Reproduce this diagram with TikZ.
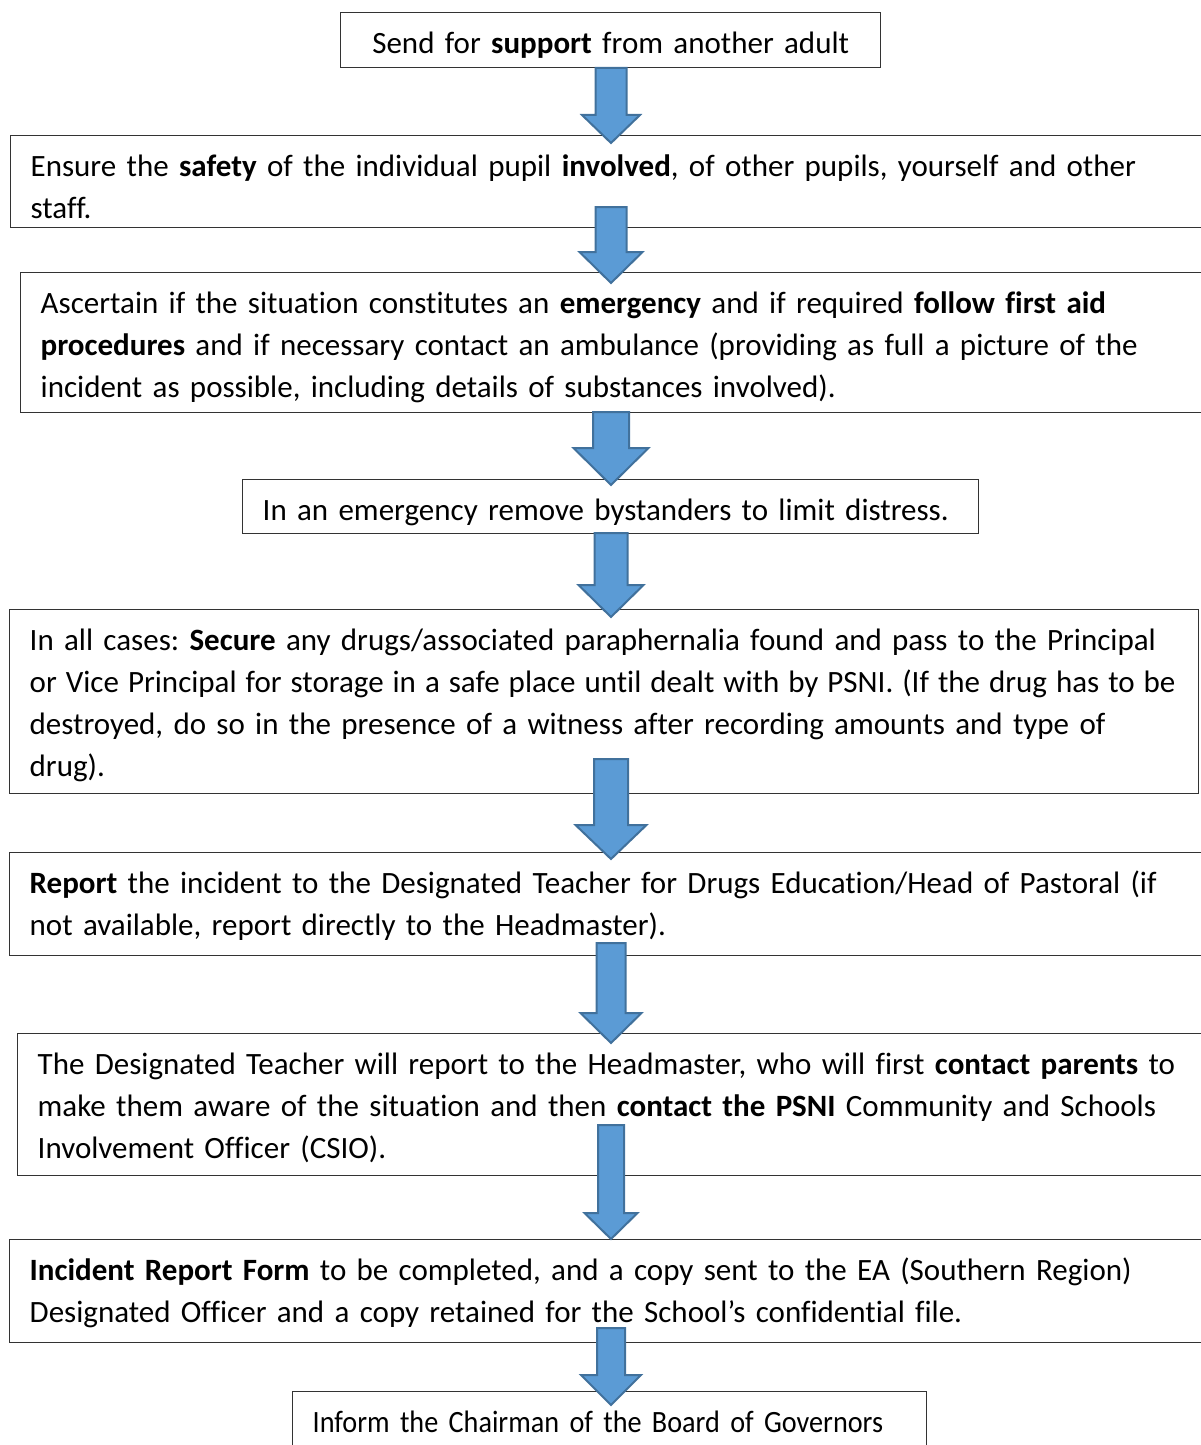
\documentclass[tikz,border=0pt]{standalone}
\usepackage{fontspec}
\setmainfont{Carlito}[Ligatures=CommonOff]
\definecolor{arrowfill}{HTML}{5B9BD5}
\definecolor{arrowline}{HTML}{41719C}
\hyphenpenalty=10000
\frenchspacing

\begin{document}
\begin{tikzpicture}[x=0.5pt, y=-0.5pt,
    stepbox/.style = {draw=black!80, line width=0.7pt, anchor=north west, align=left,
        inner xsep=10pt, inner ysep=0pt, text height=20.5pt,
        font=\fontsize{15.5}{21}\selectfont},
    blockarrow/.style = {fill=arrowfill, draw=arrowline, line width=1pt, line join=miter}]
    \useasboundingbox (0,0) rectangle (1200,1445);
    % the steps, top to bottom
    \node[stepbox, align=center, text width=250pt, text depth=7pt] (support) at (340,12) {Send for \textbf{support} from another adult};
    \node[stepbox, text width=582.5pt, text depth=25.5pt] (safety) at (10,135) {Ensure the \textbf{safety} of the individual pupil \textbf{involved}, of other pupils, yourself and other\\ staff.};
    \node[stepbox, text width=577.5pt, text depth=49.5pt] (emergency) at (20,272) {Ascertain if the situation constitutes an \textbf{emergency} and if required \textbf{follow first aid}\\ \textbf{procedures} and if necessary contact an ambulance (providing as full a picture of the\\ incident as possible, including details of substances involved).};
    \node[stepbox, text width=348pt, text depth=6.5pt] (bystanders) at (242,479) {In an emergency remove bystanders to limit distress.};
    \node[stepbox, text width=574.5pt, text depth=71.5pt] (secure) at (9,609) {In all cases: \textbf{Secure} any drugs/associated paraphernalia found and pass to the Principal\\ \mbox{\spaceskip=0.29em\relax or Vice Principal for storage in a safe place until dealt with by PSNI. (If the drug has to be}\\ destroyed, do so in the presence of a witness after recording amounts and type of\\ drug).};
    \node[stepbox, text width=583pt, text depth=31pt] (report) at (9,852) {\textbf{Report} the incident to the Designated Teacher for Drugs Education/Head of Pastoral (if\\ not available, report directly to the Headmaster).};
    \node[stepbox, text width=579pt, text depth=50.5pt] (parents) at (17,1033) {The Designated Teacher will report to the Headmaster, who will first \textbf{contact parents} to\\ make them aware of the situation and then \textbf{contact the PSNI} Community and Schools\\ Involvement Officer (CSIO).};
    \node[stepbox, text width=583pt, text depth=31pt] (form) at (9,1239) {\textbf{Incident Report Form} to be completed, and a copy sent to the EA (Southern Region)\\ Designated Officer and a copy retained for the School’s confidential file.};
    \node[stepbox, text width=297pt, text depth=19.5pt] (chairman) at (292,1391) {\addfontfeatures{FakeStretch=0.91}Inform the Chairman of the Board of Governors};
    % block arrows between the steps
    \foreach \ytop/\ybase/\ytip/\sw/\hw in {68/115/143/15.5/29, 207/252/283/15.5/31.5,
        412/448/485/18/37.5, 533/585/617/16.5/32.5, 759/825/859/17/35.5,
        943/1013/1043/14.5/30.5, 1125/1213/1239/13/26.5, 1328/1375/1405/14/30}
        \draw[blockarrow] (611-\sw,\ytop) -- (611+\sw,\ytop) -- (611+\sw,\ybase) -- (611+\hw,\ybase)
            -- (611,\ytip) -- (611-\hw,\ybase) -- (611-\sw,\ybase) -- cycle;
\end{tikzpicture}
\end{document}
